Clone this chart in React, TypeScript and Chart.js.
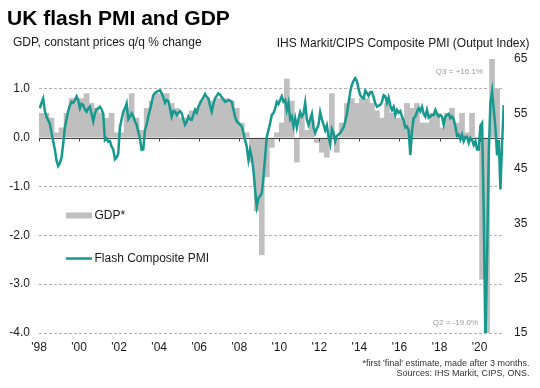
import React, { useEffect, useRef } from "react";
import { Chart, registerables } from "chart.js";

Chart.register(...registerables);

const FONT = '"Liberation Sans", Arial, Helvetica, sans-serif';
const TEAL = "#17998E";
const BAR_GREY = "#BFBFBF";

const startYear = 1998;

// Quarterly GDP q/q % change, 1998 Q1 .. 2020 Q4
const gdpValues = [
  0.5, 0.5, 0.4, 0.1,
  0.2, 0.5, 0.8, 0.8,
  0.8, 0.9, 0.7, 0.6,
  0.5, 0.4, 0.5, 0.1,
  0.1, 0.6, 0.9, 0.4,
  0.15, 0.6, 0.75, 0.9,
  0.9, 0.9, 0.7, 0.6,
  0.4, 0.4, 0.55, 0.6,
  0.75, 0.8, 0.75, 0.8,
  0.8, 0.8, 0.75, 0.6,
  0.3, 0.1, -0.5, -1.5,
  -2.4, -0.8, -0.2, 0.1,
  0.3, 1.2, 0.75, -0.5,
  0.5, 0.15, 0.35, -0.1,
  -0.3, -0.4, 0.9, -0.3,
  0.3, 0.7, 0.8, 0.7,
  0.8, 0.8, 0.7, 0.55,
  0.4, 0.7, 0.5, 0.4,
  0.4, 0.7, 0.6, 0.7,
  0.3, 0.3, 0.5, 0.5,
  0.2, 0.5, 0.6, 0.3,
  0.5, 0.1, 0.5, 0.0,
  -2.9, -19.0, 16.1, 1.0,
];

// Monthly flash composite PMI, Jan 1998 .. Mar 2021
const pmiValues = [
  56.0, 57.0, 57.8, 55.5, 54.5, 53.8, 53.2, 51.5, 50.0, 48.5, 46.5, 45.5,
  46.0, 47.0, 49.5, 52.5, 54.0, 55.5, 56.5, 57.2, 57.0, 57.5, 58.2, 57.5,
  56.0, 56.8, 56.6, 55.8, 55.4, 56.0, 56.3, 55.0, 53.6, 55.0, 55.9, 56.0,
  56.3, 55.8, 54.9, 50.2, 50.5, 49.9, 50.0, 49.0, 48.5, 46.7, 47.0, 47.8,
  52.6, 54.0, 55.4, 56.0, 56.9, 54.0, 54.5, 55.1, 54.5, 53.6, 53.0, 51.7,
  50.5, 48.4, 48.5, 52.0, 53.0, 54.5, 55.7, 57.0, 58.4, 58.8, 59.0, 59.2,
  59.3, 58.8, 58.0, 57.0, 57.5, 57.3, 56.0, 54.5, 55.5, 55.4, 54.8, 55.2,
  55.5, 55.1, 54.0, 53.0, 53.5, 54.5, 54.0, 53.9, 54.8, 55.7, 55.2, 56.3,
  56.9, 57.5, 58.0, 58.6, 58.1, 57.8, 56.5, 55.4, 56.8, 57.8, 58.3, 58.7,
  58.5, 58.0, 57.6, 57.2, 57.3, 57.5, 57.4, 57.2, 55.8, 54.5, 53.6, 53.3,
  53.0, 52.7, 51.5, 50.2, 49.0, 46.6, 48.4, 47.0, 44.7, 41.1, 38.1, 39.6,
  40.0, 40.5, 43.5, 47.2, 50.8, 52.0, 53.3, 54.8, 55.1, 56.0, 57.2, 56.8,
  57.5, 58.2, 57.2, 57.5, 55.7, 57.0, 54.0, 54.5, 52.7, 54.2, 52.5, 54.0,
  55.3, 54.5, 55.0, 57.0, 54.0, 53.0, 54.0, 55.0, 52.5, 51.5, 52.3, 53.0,
  55.3, 54.0, 53.0, 52.0, 52.9, 50.8, 49.5, 52.2, 51.5, 50.0, 51.0, 51.2,
  51.5, 52.0, 52.5, 53.6, 55.0, 57.0, 59.0, 60.3, 61.0, 61.5, 61.0, 59.5,
  58.4, 58.0, 57.8, 59.2, 58.8, 58.3, 59.0, 59.0, 58.0, 56.9, 56.3, 56.5,
  56.6, 57.2, 58.4, 58.2, 57.0, 58.0, 56.5, 55.7, 56.3, 54.8, 55.7, 55.2,
  55.5, 54.5, 53.8, 52.5, 52.7, 52.0, 47.5, 51.8, 54.2, 54.5, 55.4, 56.0,
  55.5, 56.3, 55.0, 54.5, 55.7, 54.3, 54.5, 54.8, 54.8, 55.7, 55.0, 54.5,
  54.8, 54.5, 53.0, 54.5, 54.8, 55.0, 54.2, 54.5, 54.0, 52.7, 51.0, 51.2,
  50.3, 51.2, 50.0, 50.8, 50.8, 49.7, 50.6, 50.2, 49.3, 50.0, 48.5, 48.5,
  52.8, 53.3, 37.1, 12.9, 28.9, 47.6, 57.1, 59.1, 55.7, 52.5, 47.4, 50.2,
  41.2, 49.8, 56.6,
];

const xTickYears = [1998, 2000, 2002, 2004, 2006, 2008, 2010, 2012, 2014, 2016, 2018, 2020];
const gdpTicks = [-4, -3, -2, -1, 0, 1];
const pmiTicks = [15, 25, 35, 45, 55, 65];

const titleText = "UK flash PMI and GDP";
const leftAxisTitle = "GDP, constant prices q/q % change";
const rightAxisTitle = "IHS Markit/CIPS Composite PMI (Output Index)";
const gdpLegend = "GDP*";
const pmiLegend = "Flash Composite PMI";
const q3Note = "Q3 = +16.1%";
const q2Note = "Q2 = -19.0%";
const footnote1 = "*first 'final' estimate, made after 3 months.";
const footnote2 = "Sources: IHS Markit, CIPS, ONS.";

const decorPlugin = {
  id: "decor",
  afterDatasetDraw(chart: any, args: any) {
    if (args.meta.type !== "bar") return;
    const { ctx, chartArea, scales } = chart;
    const y0 = Math.round(scales.y.getPixelForValue(0)) + 0.5;
    ctx.save();
    ctx.strokeStyle = "#404040";
    ctx.lineWidth = 1;
    ctx.beginPath();
    ctx.moveTo(chartArea.left, y0);
    ctx.lineTo(chartArea.right, y0);
    for (const yr of xTickYears) {
      const x = Math.round(scales.x.getPixelForValue(yr)) + 0.5;
      ctx.moveTo(x, y0);
      ctx.lineTo(x, y0 + 3);
    }
    ctx.stroke();
    ctx.restore();
  },
  afterDraw(chart: any) {
    const { ctx } = chart;
    ctx.save();
    ctx.textBaseline = "alphabetic";
    ctx.fillStyle = "#000";
    ctx.font = `bold 21px ${FONT}`;
    ctx.textAlign = "left";
    ctx.fillText(titleText, 7, 25);

    ctx.font = `12px ${FONT}`;
    ctx.fillStyle = "#1a1a1a";
    ctx.textBaseline = "middle";
    ctx.fillText(leftAxisTitle, 13, 43);
    ctx.textAlign = "right";
    ctx.fillText(rightAxisTitle, 529.5, 44);

    ctx.font = `8px ${FONT}`;
    ctx.fillStyle = "#999";
    ctx.fillText(q3Note, 483, 72);
    ctx.fillText(q2Note, 478, 323);

    ctx.font = `9px ${FONT}`;
    ctx.fillStyle = "#333";
    ctx.fillText(footnote1, 529.5, 363.5);
    ctx.fillText(footnote2, 529.5, 373.5);

    // legend
    ctx.fillStyle = BAR_GREY;
    ctx.fillRect(66, 212.5, 26, 6);
    ctx.strokeStyle = TEAL;
    ctx.lineWidth = 2.5;
    ctx.beginPath();
    ctx.moveTo(66, 258.5);
    ctx.lineTo(92, 258.5);
    ctx.stroke();
    ctx.fillStyle = "#1a1a1a";
    ctx.font = `12px ${FONT}`;
    ctx.textAlign = "left";
    ctx.fillText(gdpLegend, 94.5, 215.5);
    ctx.fillText(pmiLegend, 94.5, 258.5);
    ctx.restore();
  },
};

export default function App() {
  const canvasRef = useRef<HTMLCanvasElement | null>(null);

  useEffect(() => {
    document.body.style.margin = "0";
    const canvas = canvasRef.current;
    if (!canvas) return;
    const gdpPoints = gdpValues.map((v, i) => ({ x: startYear + i * 0.25 + 0.125, y: v }));
    const pmiPoints = pmiValues.map((v, i) => ({ x: startYear + (i + 0.5) / 12, y: v }));
    const tickFont = { family: FONT, size: 12 };

    const chart = new Chart(canvas, {
      type: "bar",
      data: {
        datasets: [
          {
            type: "line",
            label: pmiLegend,
            data: pmiPoints,
            xAxisID: "x",
            yAxisID: "y2",
            borderColor: TEAL,
            backgroundColor: TEAL,
            borderWidth: 2.5,
            pointRadius: 0,
            tension: 0,
            order: 0,
            clip: 0,
          } as any,
          {
            type: "bar",
            label: gdpLegend,
            data: gdpPoints,
            xAxisID: "x",
            yAxisID: "y",
            backgroundColor: BAR_GREY,
            borderWidth: 0,
            barPercentage: 1,
            categoryPercentage: 1,
            order: 1,
            clip: 0,
          } as any,
        ],
      },
      options: {
        responsive: false,
        animation: false,
        devicePixelRatio: 1,
        layout: { padding: { top: 59, left: 0, right: 0, bottom: 0 } },
        plugins: { legend: { display: false }, tooltip: { enabled: false }, title: { display: false } },
        scales: {
          x: {
            type: "linear",
            min: 1998,
            max: 2021.22,
            offset: false,
            grid: { display: false, drawTicks: false },
            border: { display: false },
            ticks: {
              padding: 7,
              font: tickFont,
              color: "#1a1a1a",
              autoSkip: false,
              maxRotation: 0,
              callback: (v: any) => "'" + String(v).slice(2),
            },
            afterBuildTicks: (s: any) => {
              s.ticks = xTickYears.map((v) => ({ value: v }));
            },
            afterFit: (s: any) => {
              s.height = 55;
            },
          },
          y: {
            type: "linear",
            position: "left",
            min: -4,
            max: 1.61,
            grid: {
              drawTicks: false,
              lineWidth: 1,
              color: (ctx: any) => (ctx.tick && ctx.tick.value === 0 ? "rgba(0,0,0,0)" : "#B0B0B0"),
            },
            border: { display: false, dash: [3, 2] },
            ticks: {
              padding: 9,
              font: tickFont,
              color: "#1a1a1a",
              callback: (v: any) => Number(v).toFixed(1),
            },
            afterBuildTicks: (s: any) => {
              s.ticks = gdpTicks.map((v) => ({ value: v }));
            },
            afterFit: (s: any) => {
              s.width = 39;
            },
          },
          y2: {
            type: "linear",
            position: "right",
            min: 15,
            max: 65,
            grid: { display: false, drawTicks: false },
            border: { display: false },
            ticks: {
              padding: 10,
              font: tickFont,
              color: "#1a1a1a",
            },
            afterBuildTicks: (s: any) => {
              s.ticks = pmiTicks.map((v) => ({ value: v }));
            },
            afterFit: (s: any) => {
              s.width = 36;
            },
          },
        },
      } as any,
      plugins: [decorPlugin as any],
    });
    return () => chart.destroy();
  }, []);

  return (
    <div style={{ position: "fixed", left: 0, top: 0, width: 540, height: 388, background: "#fff" }}>
      <canvas ref={canvasRef} width={540} height={388} style={{ display: "block" }} />
    </div>
  );
}
